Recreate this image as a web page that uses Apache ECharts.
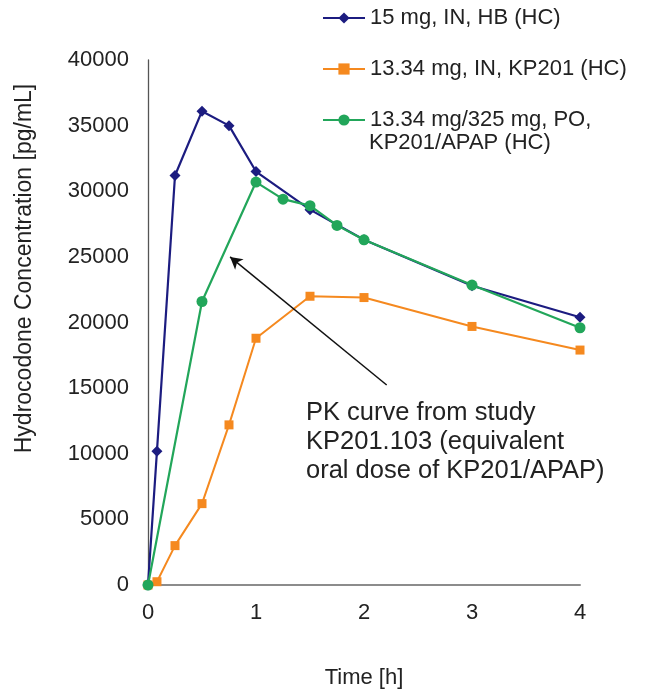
<!DOCTYPE html>
<html>
<head>
<meta charset="utf-8">
<script src="https://cdn.jsdelivr.net/npm/echarts@6/dist/echarts.min.js"></script>
<style>html,body{margin:0;padding:0;background:#fff;}#c{width:647px;height:695px;}</style>
</head>
<body>
<div id="c"></div>
<script>
// Time points [h]
const timeHB = [0, 0.083, 0.25, 0.5, 0.75, 1, 1.5, 2, 3, 4];
const concHB = [0, 10200, 31200, 36100, 35000, 31500, 28600, 26300, 22800, 20400];

const timeKP = [0, 0.083, 0.25, 0.5, 0.75, 1, 1.5, 2, 3, 4];
const concKP = [0, 250, 3000, 6200, 12200, 18800, 22000, 21900, 19700, 17900];

const timePO = [0, 0.5, 1, 1.25, 1.5, 1.75, 2, 3, 4];
const concPO = [0, 21600, 30700, 29400, 28900, 27400, 26300, 22850, 19600];

const seriesNames = ['15 mg, IN, HB (HC)', '13.34 mg, IN, KP201 (HC)', '13.34 mg/325 mg, PO, KP201/APAP (HC)'];
const legendLines = {'15 mg, IN, HB (HC)': '15 mg, IN, HB (HC)', '13.34 mg, IN, KP201 (HC)': '13.34 mg, IN, KP201 (HC)', '13.34 mg/325 mg, PO, KP201/APAP (HC)': '13.34 mg/325 mg, PO,'};
const legendSecondLine = 'KP201/APAP (HC)';
const xTicks = {min: 0, max: 4, interval: 1};
const yTicks = {min: 0, max: 40000, interval: 5000};
const arrowFrom = [2.21, 15240];
const arrowTo = [0.76, 25000];
const annotation = 'PK curve from study\nKP201.103 (equivalent\noral dose of KP201/APAP)';

const zip = (xs, ys) => xs.map((x, i) => [x, ys[i]]);
const FONT = 'Liberation Sans, Arial, sans-serif';
const TXT = '#222';

const chart = echarts.init(document.getElementById('c'));
chart.setOption({
  animation: false,
  backgroundColor: '#fff',
  grid: {left: 148, right: 67, top: 60, bottom: 110},
  legend: {
    orient: 'vertical', left: 317, top: 0.5,
    itemWidth: 42, itemHeight: 14, itemGap: 26,
    data: seriesNames,
    formatter: n => legendLines[n],
    textStyle: {fontFamily: FONT, fontSize: 22, lineHeight: 25, color: TXT}
  },
  graphic: [
    {type: 'text', left: 369, top: 130.5, style: {text: legendSecondLine, fontFamily: FONT, fontSize: 22, lineHeight: 25, fill: TXT}},
    {type: 'text', left: 306, top: 398, style: {text: annotation, fontFamily: FONT, fontSize: 25.5, lineHeight: 29, fill: TXT}}
  ],
  xAxis: {
    type: 'value', min: xTicks.min, max: xTicks.max, interval: xTicks.interval,
    name: 'Time [h]', nameLocation: 'middle', nameGap: 82,
    nameTextStyle: {fontFamily: FONT, fontSize: 22, color: TXT},
    axisLine: {lineStyle: {color: '#8c8c8c', width: 2}},
    axisTick: {show: false},
    splitLine: {show: false},
    axisLabel: {fontFamily: FONT, fontSize: 22, color: TXT, margin: 17}
  },
  yAxis: {
    type: 'value', min: yTicks.min, max: yTicks.max, interval: yTicks.interval,
    name: 'Hydrocodone Concentration [pg/mL]', nameLocation: 'middle', nameGap: 112,
    nameTextStyle: {fontFamily: FONT, fontSize: 23, color: TXT, padding: [0, 0, 0, 108]},
    axisLine: {show: true, lineStyle: {color: '#555', width: 1.3}},
    axisTick: {show: false},
    splitLine: {show: false},
    axisLabel: {fontFamily: FONT, fontSize: 22, color: TXT, margin: 19, formatter: v => String(v)}
  },
  series: [
    {
      name: seriesNames[0], type: 'line', data: zip(timeHB, concHB),
      symbol: 'diamond', symbolSize: 11, color: '#1c1c80',
      lineStyle: {width: 2.2}, z: 3
    },
    {
      name: seriesNames[1], type: 'line', data: zip(timeKP, concKP),
      symbol: 'rect', symbolSize: 9, color: '#f5891f',
      lineStyle: {width: 2}, z: 4
    },
    {
      name: seriesNames[2], type: 'line', data: zip(timePO, concPO),
      symbol: 'circle', symbolSize: 11, color: '#22a65a',
      lineStyle: {width: 2.2}, z: 5,
      markLine: {
        silent: true, symbol: ['none', 'arrow'], symbolSize: [10, 12],
        label: {show: false},
        lineStyle: {color: '#111', width: 1.5, type: 'solid'},
        data: [[{coord: arrowFrom}, {coord: arrowTo}]]
      }
    }
  ]
});
</script>
</body>
</html>
